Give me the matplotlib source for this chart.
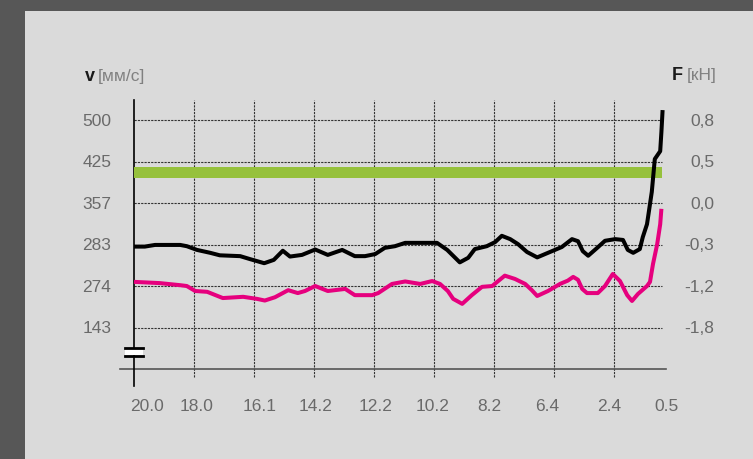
import matplotlib.pyplot as plt
from matplotlib.patches import Rectangle

plt.rcParams['font.family'] = ['Liberation Sans', 'DejaVu Sans']

# y axis is drawn on an even "level" scale; each level gets its own label
v_labels = ['143', '274', '283', '357', '425', '500']
f_labels = ['-1,8', '-1,2', '-0,3', '0,0', '0,5', '0,8']
levels = [1, 2, 3, 4, 5, 6]

# x axis: grid columns, labels are placed a bit off the grid lines
x_labels = ['20.0', '18.0', '16.1', '14.2', '12.2', '10.2', '8.2', '6.4', '2.4', '0.5']
x_label_pos = [0.22, 1.05, 2.1, 3.03, 4.02, 4.97, 5.92, 6.88, 7.92, 8.88]
grid_cols = [1, 2, 3, 4, 5, 6, 7, 8]
x_end = 8.83

# black curve (speed)
v_x = [0, 0.18, 0.35, 0.77, 0.88, 1.05, 1.27, 1.43, 1.77, 1.93, 2.17, 2.33, 2.48, 2.6,
       2.8, 3.02, 3.23, 3.47, 3.68, 3.85, 4.02, 4.18, 4.35, 4.52, 4.77, 5.05, 5.22, 5.43,
       5.57, 5.68, 5.88, 6.02, 6.13, 6.27, 6.4, 6.55, 6.72, 6.9, 7.13, 7.3, 7.4, 7.48,
       7.57, 7.72, 7.85, 8.02, 8.15, 8.23, 8.32, 8.43, 8.48, 8.55, 8.63, 8.68, 8.77,
       8.79, 8.81]
v_y = [2.95, 2.95, 2.99, 2.99, 2.96, 2.87, 2.8, 2.74, 2.72, 2.65, 2.55, 2.63, 2.85, 2.71,
       2.75, 2.88, 2.75, 2.87, 2.72, 2.72, 2.77, 2.92, 2.96, 3.04, 3.04, 3.04, 2.87, 2.57,
       2.68, 2.89, 2.96, 3.06, 3.21, 3.13, 3.01, 2.82, 2.69, 2.8, 2.94, 3.13, 3.08, 2.84,
       2.73, 2.92, 3.09, 3.13, 3.11, 2.87, 2.8, 2.89, 3.18, 3.49, 4.27, 5.06, 5.25,
       5.71, 6.24]

# magenta curve (force)
f_x = [0, 0.43, 0.77, 0.88, 1.02, 1.22, 1.48, 1.82, 2.05, 2.18, 2.35, 2.57, 2.73, 2.85,
       3.02, 3.23, 3.52, 3.68, 3.97, 4.07, 4.3, 4.52, 4.77, 4.97, 5.1, 5.23, 5.32, 5.47,
       5.63, 5.8, 5.97, 6.07, 6.18, 6.35, 6.52, 6.63, 6.72, 6.9, 7.1, 7.23, 7.32, 7.4,
       7.47, 7.55, 7.73, 7.85, 7.98, 8.1, 8.22, 8.3, 8.4, 8.55, 8.6, 8.65, 8.72, 8.77,
       8.79]
f_y = [2.1, 2.07, 2.02, 2.0, 1.88, 1.86, 1.71, 1.74, 1.69, 1.65, 1.73, 1.9, 1.83, 1.88,
       2.0, 1.88, 1.93, 1.78, 1.78, 1.83, 2.05, 2.11, 2.05, 2.12, 2.05, 1.88, 1.69, 1.57,
       1.78, 1.98, 2.0, 2.12, 2.25, 2.17, 2.05, 1.9, 1.76, 1.88, 2.05, 2.13, 2.22, 2.15,
       1.93, 1.83, 1.83, 2.0, 2.29, 2.12, 1.78, 1.64, 1.81, 2.0, 2.1, 2.53, 3.01, 3.49,
       3.86]

# green limit band
band_lo, band_hi = 4.6, 4.87

fig = plt.figure(figsize=(7.53, 4.6), dpi=100, facecolor='#dadada')
# dark frame on the left and top
fig.patches.append(Rectangle((0, 0), 25 / 753, 1, transform=fig.transFigure,
                             facecolor='#575757', edgecolor='none'))
fig.patches.append(Rectangle((0, 1 - 12 / 460), 1, 12 / 460, transform=fig.transFigure,
                             facecolor='#575757', edgecolor='none'))

ax = fig.add_axes([104 / 753, 1 - 394.9 / 460, 570 / 753, (394.9 - 92) / 460])
ax.set_xlim(-0.5, 9.0)
ax.set_ylim(-0.6, 6.7)
ax.axis('off')

grid_style = dict(color='#333333', lw=0.8, linestyle=(0, (2, 1)))
ax.hlines(levels, 0, x_end - 0.03, **grid_style, zorder=1)
ax.vlines(grid_cols, -0.19, 6.48, **grid_style, zorder=1)

# baseline and left axis
ax.plot([-0.23, x_end + 0.03], [0, 0], color='#555555', lw=1.2, zorder=2)
ax.plot([0, 0], [-0.41, 6.48], color='black', lw=1.2, zorder=2)

# axis break mark
ax.add_patch(Rectangle((-0.15, 0.34), 0.3, 0.15, facecolor='white', edgecolor='none', zorder=3))
ax.plot([-0.15, 0.15], [0.5, 0.5], color='black', lw=2, zorder=4)
ax.plot([-0.15, 0.15], [0.32, 0.32], color='black', lw=2, zorder=4)

ax.fill_between([0, x_end - 0.03], band_lo, band_hi, color='#96c13c', lw=0, zorder=3)

ax.plot(f_x, f_y, color='#e6007e', lw=2.9, zorder=5, solid_capstyle='butt',
        solid_joinstyle='round')
ax.plot(v_x, v_y, color='black', lw=2.9, zorder=6, solid_capstyle='butt',
        solid_joinstyle='round')

tick_kw = dict(color='#6a6a6a', fontsize=12.5, va='center')
for lv, lab in zip(levels, v_labels):
    ax.text(-0.38, lv, lab, ha='right', **tick_kw)
for lv, lab in zip(levels, f_labels):
    ax.text(9.67, lv, lab, ha='right', **tick_kw)
for xp, lab in zip(x_label_pos, x_labels):
    ax.text(xp, -0.88, lab, ha='center', **tick_kw)

ax.text(-0.82, 7.08, 'v', fontsize=13, fontweight='bold', color='#1a1a1a', va='center')
ax.text(-0.6, 7.08, '[мм/с]', fontsize=12.5, color='#808080', va='center')
ax.text(8.97, 7.1, 'F', fontsize=13, fontweight='bold', color='#1a1a1a', va='center')
ax.text(9.22, 7.1, '[кН]', fontsize=12.5, color='#808080', va='center')

fig.savefig('out.png', dpi=100, facecolor=fig.get_facecolor())
